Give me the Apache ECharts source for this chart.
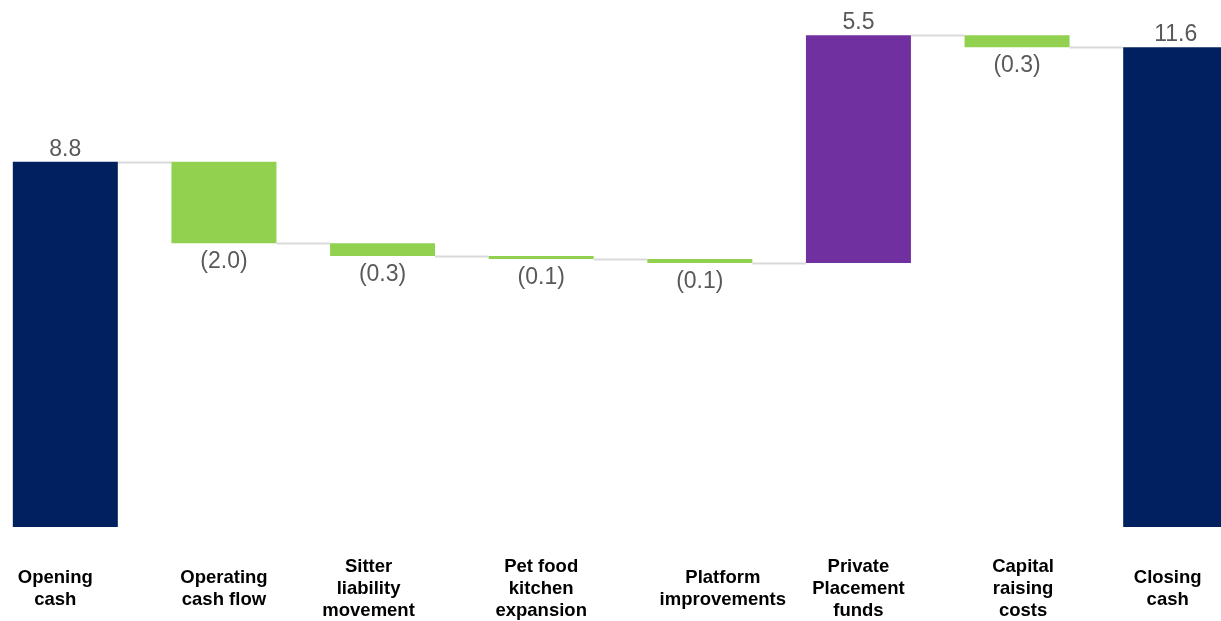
<!DOCTYPE html>
<html>
<head>
<meta charset="utf-8">
<script src="https://cdn.jsdelivr.net/npm/echarts@6/dist/echarts.min.js"></script>
<style>
  html, body { margin: 0; padding: 0; background: #fff; }
  #chart { width: 1221px; height: 621px; }
</style>
</head>
<body>
<div id="chart"></div>
<script>
// categories and values
const categories = [
  'Opening\ncash',
  'Operating\ncash flow',
  'Sitter\nliability\nmovement',
  'Pet food\nkitchen\nexpansion',
  'Platform\nimprovements',
  'Private\nPlacement\nfunds',
  'Capital\nraising\ncosts',
  'Closing\ncash',
]
const values = [8.8, -1.96, -0.31, -0.07, -0.1, 5.49, -0.29, 11.56]
const kinds = ['total', 'delta', 'delta', 'delta', 'delta', 'delta', 'delta', 'total']
const barColors = ['#002060', '#92d050', '#92d050', '#92d050', '#92d050', '#7030a0', '#92d050', '#002060']
// small nudges of the category labels, as in the original slide
const labelShift = [-10, 0, -14, 0, 23, 0, 6, -8]

// build waterfall pieces
const bases = []
const heights = []
const levels = []
let running = 0
values.forEach((v, i) => {
  if (kinds[i] === 'total') {
    bases.push(0)
    heights.push(v)
    running = v
  } else if (v < 0) {
    bases.push(running + v)
    heights.push(-v)
    running += v
  } else {
    bases.push(running)
    heights.push(v)
    running += v
  }
  levels.push(running)
})

const fmt = (v) => (v < 0 ? '(' + Math.abs(v).toFixed(1) + ')' : v.toFixed(1))

const BAR_W = 105
const LINE_H = 22

const chart = echarts.init(document.getElementById('chart'))

const option = {
  animation: false,
  grid: {
    left: -14,
    right: -34,
    top: 29,
    bottom: 94,
    outerBoundsMode: 'none',
    containLabel: false,
  },
  xAxis: {
    type: 'category',
    data: categories.map((c, i) => {
      const s = labelShift[i]
      // centre 2-line labels on the same middle as 3-line ones
      const lines = c.split('\n').length
      const top = ((3 - lines) * LINE_H) / 2
      return {
        value: c,
        textStyle: {
          padding: s > 0 ? [top, 0, 0, 2 * s] : [top, -2 * s, 0, 0],
        },
      }
    }),
    axisLine: { show: false },
    axisTick: { show: false },
    axisLabel: {
      interval: 0,
      margin: 29,
      color: '#000',
      fontFamily: 'Liberation Sans, Arial, sans-serif',
      fontWeight: 'bold',
      fontSize: 18.5,
      lineHeight: LINE_H,
    },
  },
  yAxis: {
    type: 'value',
    min: 0,
    max: 12,
    show: false,
    splitLine: { show: false },
  },
  series: [
    {
      type: 'bar',
      stack: 'wf',
      barWidth: BAR_W,
      itemStyle: { color: 'transparent' },
      data: bases,
      silent: true,
    },
    {
      type: 'bar',
      stack: 'wf',
      barWidth: BAR_W,
      data: heights.map((h, i) => ({
        value: h,
        itemStyle: { color: barColors[i] },
        label: {
          show: true,
          position: values[i] < 0 ? 'bottom' : 'top',
          distance: values[i] < 0 ? 7 : 1,
          formatter: fmt(values[i]),
          color: '#595959',
          fontFamily: 'Liberation Sans, Arial, sans-serif',
          fontSize: 23,
        },
      })),
    },
    {
      // connector lines between bars
      type: 'custom',
      silent: true,
      z: 1,
      data: levels.slice(0, levels.length - 1).map((lv, i) => [i, lv]),
      renderItem: (params, api) => {
        const p = api.coord([api.value(0), api.value(1)])
        const band = api.size([1, 0])[0]
        const y = Math.round(p[1]) + 0.5
        return {
          type: 'line',
          shape: {
            x1: p[0] + BAR_W / 2,
            y1: y,
            x2: p[0] + band - BAR_W / 2,
            y2: y,
          },
          style: { stroke: '#d9d9d9', lineWidth: 2 },
        }
      },
    },
  ],
}

chart.setOption(option)
</script>
</body>
</html>
